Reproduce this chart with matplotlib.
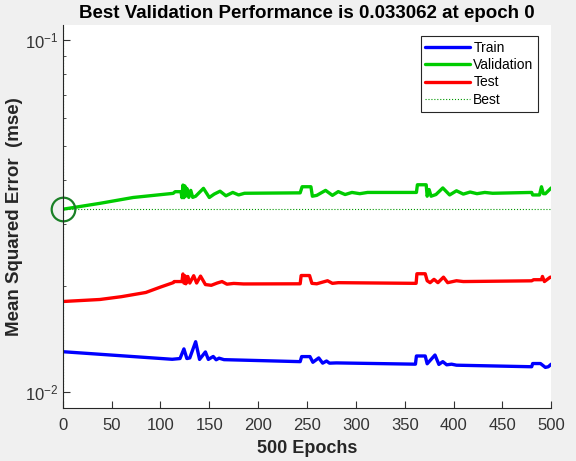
import numpy as np
import matplotlib
matplotlib.use("Agg")
import matplotlib.pyplot as plt

plt.rcParams['font.family'] = ['Liberation Sans', 'DejaVu Sans']

# values (epoch, mse)
train_epochs = [0, 112, 120, 124, 127, 130, 136, 140, 146, 149, 154, 157, 160, 165,
                243, 244.5, 253, 256, 262, 266, 270, 273, 280,
                361, 362, 371, 373, 381, 385, 389, 393, 398, 403,
                480, 481, 489, 494, 497, 500]
train_mse = [0.01302, 0.01239, 0.01245, 0.01326, 0.01245, 0.01250, 0.01390, 0.01238, 0.01300, 0.01238,
             0.01262, 0.01235, 0.01248, 0.01236,
             0.01220, 0.01261, 0.01261, 0.01215, 0.01250, 0.01208, 0.01225, 0.01208, 0.01210,
             0.01200, 0.01266, 0.01266, 0.01203, 0.01274, 0.01198, 0.01220, 0.01195, 0.01200, 0.01192,
             0.01180, 0.01205, 0.01205, 0.01175, 0.01180, 0.01200]

val_epochs = [0, 38, 72, 113, 115, 121, 122, 123, 124, 125, 126, 127, 129, 131, 133, 136,
              144, 150, 155, 161, 167, 174, 180, 186,
              243, 245, 254, 255.5, 260, 269, 276, 282, 289, 296, 304, 312,
              362, 363, 372, 373, 375, 377, 382, 389, 396, 403, 410, 417, 424, 432, 440,
              480, 481, 488, 490, 492, 494, 500]
val_mse = [0.033062, 0.03436, 0.03570, 0.03668, 0.03708, 0.03708, 0.03565, 0.03873, 0.03565, 0.03850,
           0.03604, 0.03790, 0.03573, 0.03740, 0.03573, 0.03600,
           0.03790, 0.03570, 0.03650, 0.03720, 0.03610, 0.03690, 0.03630, 0.03670,
           0.03680, 0.03830, 0.03830, 0.03600, 0.03620, 0.03740, 0.03620, 0.03710, 0.03640, 0.03690,
           0.03660, 0.03690,
           0.03690, 0.03880, 0.03880, 0.03600, 0.03760, 0.03600, 0.03640, 0.03800, 0.03630, 0.03730,
           0.03650, 0.03700, 0.03660, 0.03690, 0.03670,
           0.03690, 0.03630, 0.03630, 0.03830, 0.03660, 0.03660, 0.03800]

test_epochs = [0, 38, 60, 85, 100, 113, 114, 122, 123, 124, 125, 126, 128, 130, 134, 137, 141,
               146, 152, 158, 163, 168, 175, 185,
               243, 244, 252.6, 255, 260, 264, 271, 276, 282,
               361.7, 362.5, 371, 373, 376, 380, 384, 389.7, 394, 403, 410,
               480, 482, 490, 491, 493, 499, 500]
test_mse = [0.01808, 0.01832, 0.01866, 0.01918, 0.01987, 0.02045, 0.02060, 0.02060, 0.02165, 0.02040,
            0.02140, 0.02030, 0.02130, 0.02040, 0.02140, 0.02040, 0.02135,
            0.02020, 0.02010, 0.02040, 0.02060, 0.02025, 0.02035, 0.02028,
            0.02030, 0.02143, 0.02143, 0.02036, 0.02030, 0.02045, 0.02071, 0.02036, 0.02045,
            0.02036, 0.02168, 0.02168, 0.02071, 0.02045, 0.02090, 0.02045, 0.02120, 0.02045, 0.02071,
            0.02060,
            0.02070, 0.02085, 0.02085, 0.02130, 0.02060, 0.02120, 0.02120]

best_epoch = 0
best_perf = 0.033062
n_epochs = 500

fig = plt.figure(figsize=(5.76, 4.61), dpi=100, facecolor='#f0f0f0')
ax = fig.add_axes([0.109, 0.115, 0.848, 0.831])

line_kw = dict(lw=2.4, solid_joinstyle='round', solid_capstyle='round')
ax.semilogy(train_epochs, train_mse, color=(0, 0, 1), label='Train', **line_kw)
ax.semilogy(val_epochs, val_mse, color=(0, 0.8, 0), label='Validation', **line_kw)
ax.semilogy(test_epochs, test_mse, color=(1, 0, 0), label='Test', **line_kw)
ax.axhline(best_perf, color=(0, 0.6, 0), lw=0.8, ls=':', label='Best')
ax.axvline(best_epoch, color=(0, 0.6, 0), lw=0.8, ls=':')
ax.plot([best_epoch], [best_perf], 'o', mfc='none', mec=(0.1, 0.5, 0.15),
        ms=17, mew=1.6, clip_on=False)

ax.set_xlim(0, n_epochs)
ax.set_ylim(0.00901, 0.1104)
ax.set_xticks(np.arange(0, 501, 50))
ax.set_yticks([0.01, 0.1])

for s in ['top', 'right']:
    ax.spines[s].set_visible(False)
for s in ['left', 'bottom']:
    ax.spines[s].set_color('#262626')
    ax.spines[s].set_linewidth(0.8)
ax.tick_params(which='both', direction='in', colors='#333333', labelsize=12)
ax.tick_params(axis='x', pad=7)
ax.tick_params(which='major', length=5)
ax.tick_params(which='minor', length=2.5)

ax.set_title('Best Validation Performance is 0.033062 at epoch 0',
             fontsize=13.5, fontweight='bold', color='black', pad=5)
ax.set_xlabel('500 Epochs', fontsize=13, fontweight='bold', color='#262626', labelpad=5)
ax.set_ylabel('Mean Squared Error  (mse)', fontsize=13.5, fontweight='bold', color='#262626', labelpad=1)

leg = ax.legend(loc='upper right', bbox_to_anchor=(0.988, 0.99), fontsize=10,
                fancybox=False, framealpha=1, edgecolor='#262626',
                handlelength=3.2, handletextpad=0.25, labelspacing=0.25, borderpad=0.35)
leg.get_frame().set_linewidth(0.8)

plt.savefig('out.png', dpi=100, facecolor=fig.get_facecolor())
